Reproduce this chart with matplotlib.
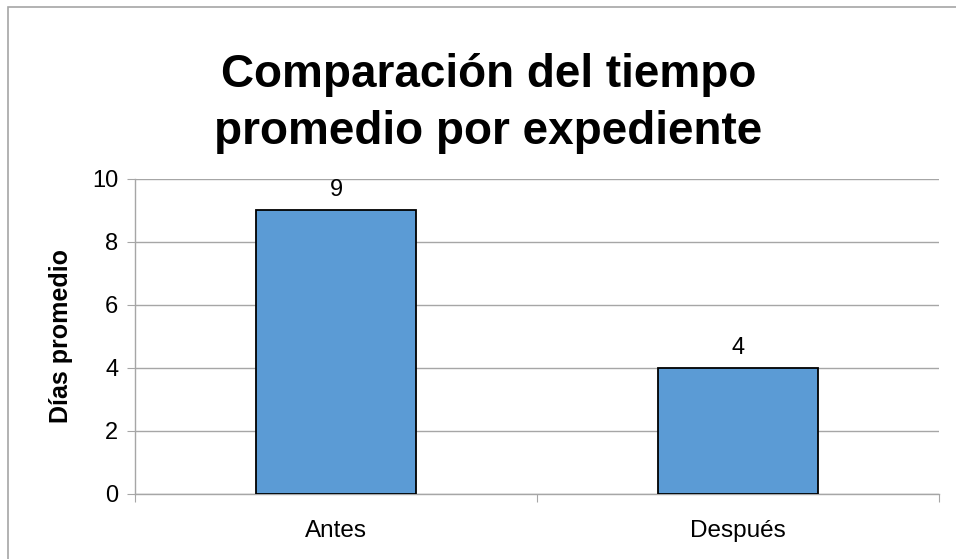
import matplotlib.pyplot as plt
from matplotlib.patches import Rectangle

# datos del grafico
categorias = ["Antes", "Después"]
dias = [9, 4]
yticks = [0, 2, 4, 6, 8, 10]

plt.rcParams['font.family'] = ['Liberation Sans', 'DejaVu Sans']

fig = plt.figure(figsize=(9.56, 5.59), dpi=100)
ax = fig.add_axes([0.1412, 0.1163, 0.8410, 0.5635])

x = range(len(categorias))
ax.bar(x, dias, width=0.4, color="#5B9BD5", edgecolor="black", linewidth=1.3, zorder=3)
for xi, v in zip(x, dias):
    ax.text(xi, v + 0.3, str(v), ha="center", va="bottom", fontsize=17)

ax.set_xlim(-0.5, len(categorias) - 0.5)
ax.set_ylim(0, 10)
ax.set_yticks(yticks)
ax.set_xticks([i + 0.5 for i in range(-1, len(categorias))], minor=False)
ax.set_xticklabels([])
ax.set_xticks(list(x), minor=True)
ax.set_xticklabels(categorias, minor=True)
ax.tick_params(axis="x", which="minor", length=0, labelsize=17.5, pad=19)
ax.tick_params(axis="x", which="major", length=6, color="#A6A6A6")
ax.tick_params(axis="y", length=6, color="#A6A6A6", labelsize=17, pad=6)
ax.grid(axis="y", color="#A6A6A6", linewidth=1, zorder=0)
for s in ["top", "right"]:
    ax.spines[s].set_visible(False)
for s in ["left", "bottom"]:
    ax.spines[s].set_color("#A6A6A6")
    ax.spines[s].set_linewidth(1)

ax.set_ylabel("Días promedio", fontsize=18, fontweight="bold", labelpad=14)
fig.text(0.511, 0.815, "Comparación del tiempo\npromedio por expediente",
         ha="center", va="center", fontsize=33, fontweight="bold", linespacing=1.38)

# borde del area del grafico
fig.patches.append(Rectangle((8 / 956, -0.01), 1.0, 1 - 7 / 559 + 0.01,
                             transform=fig.transFigure, fill=False,
                             edgecolor="#A6A6A6", linewidth=1.2))

fig.savefig("out.png", dpi=100)
